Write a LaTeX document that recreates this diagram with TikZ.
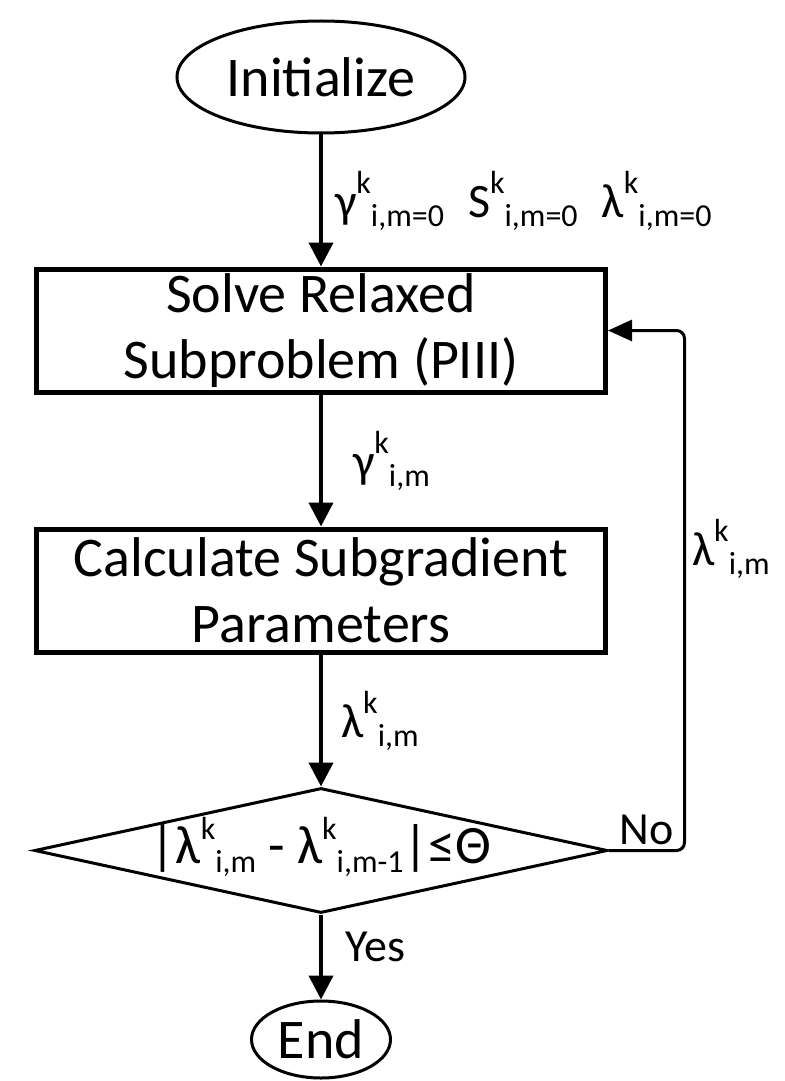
\documentclass[tikz,border=0pt]{standalone}
\usepackage{fontspec}
\setmainfont{Carlito}
\usetikzlibrary{shapes.geometric,arrows.meta,positioning}

% raised k followed by lowered index
\newcommand{\ki}[1]{\raisebox{12pt}{\fontsize{16}{16}\selectfont k}\raisebox{-4.5pt}{\fontsize{16}{16}\selectfont #1}}

\begin{document}
\begin{tikzpicture}[
  font=\fontsize{28}{33}\selectfont,
  node distance=66pt,
  terminal/.style={ellipse, draw, line width=1.5pt, inner sep=0pt},
  procbox/.style={rectangle, draw, line width=2.5pt, minimum width=284.5pt,
    minimum height=61.5pt, align=center, inner sep=0pt},
  decision/.style={diamond, draw, line width=1.5pt, aspect=4.6, minimum width=286.5pt,
    minimum height=62.5pt, inner sep=0pt, text height=15pt, text depth=2pt,
    font=\fontsize{27}{29}\selectfont},
  lab/.style={font=\fontsize{24}{26}\selectfont, inner sep=0pt},
  word/.style={font=\fontsize{23}{25}\selectfont, inner sep=0pt},
  arr/.style={-{Triangle[length=12pt,width=12pt]}, line width=2pt},
  fb/.style={-{Triangle[length=12pt,width=10.5pt]}, line width=1.5pt, rounded corners=4pt},
]
  \useasboundingbox (0,0) rectangle (392.5pt,-540.5pt);

  \node[terminal, minimum width=144pt, minimum height=56pt] (init) at (160.5pt,-38.5pt) {Initialize};
  \node[procbox, below=of init] (solve) {Solve Relaxed\\Subproblem (PIII)};
  \node[procbox, below=of solve] (calc) {Calculate Subgradient\\Parameters};
  \node[decision, below=of calc] (test) {|λ\ki{i,m} - λ\ki{i,m-1}|≤Θ};
  \node[terminal, minimum width=69.5pt, minimum height=38.5pt, below=42.5pt of test] (done) {End};

  \draw[arr] (init.south) -- node[lab, right=6pt] {γ\ki{i,m=0}\hspace{12pt}S\ki{i,m=0}\hspace{12pt}λ\ki{i,m=0}} (solve.north);
  \draw[arr] (solve.south) -- node[lab, right=15pt] {γ\ki{i,m}} (calc.north);
  \draw[arr] (calc.south) -- node[lab, right=9pt] {λ\ki{i,m}} (test.north);
  \draw[arr] (test.south) -- node[word, pos=0.38, right=11pt] {Yes} (done.north);
  \draw[fb] (test.east) -- node[word, above=2pt] {No} ++(37.75pt,0)
    |- node[lab, pos=0.29, right=3pt] {λ\ki{i,m}} (solve.east);
\end{tikzpicture}
\end{document}
